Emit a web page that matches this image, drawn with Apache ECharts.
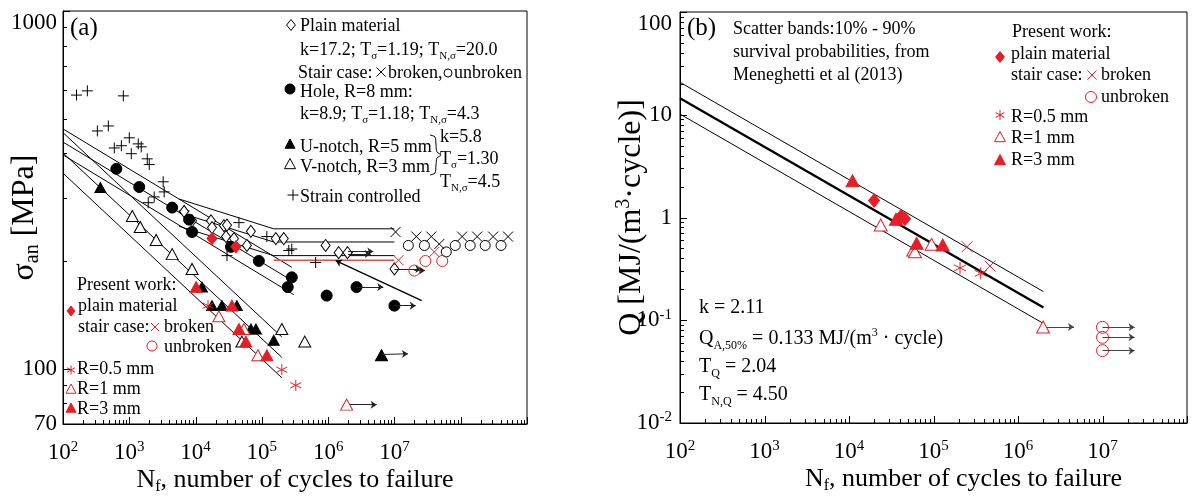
<!DOCTYPE html>
<html><head><meta charset="utf-8">
<script src="https://cdn.jsdelivr.net/npm/echarts@6/dist/echarts.min.js"></script>
<style>html,body{margin:0;padding:0;background:#fff}#c{width:1192px;height:498px}</style>
</head><body><div id="c"></div>
<script>
// ===================== DATA =====================
// Panel (a): N_f [cycles], sigma_an [MPa]
const aStrain = [[160,582],[233,598],[813,579],[330,462],[483,477],[1000,442],[1365,425],[594,414],[759,420],[1514,417],[1072,399],[1866,386],[2000,372],[3246,333],[3360,312],[2378,302],[1932,291],[6710,276],[45100,256],[118800,234],[29800,207],[254800,214],[282500,216],[648000,198],[1.96e6,211]];
const aPlain = [[6710,275],[8850,259],[17100,259],[17700,248],[26800,251],[29800,252],[28800,234],[38000,231],[59500,221],[68300,242],[162500,231],[214000,231],[916000,221],[1.44e6,211],[1.96e6,211],[1e7,190]];
const aStairBroken = [[1.04e7,241],[2.14e7,234],[3.6e7,234],[4.75e7,223],[1.05e8,234],[1.77e8,234],[3.08e8,234],[5.18e8,234]];
const aStairUnbroken = [[1.62e7,221],[2.83e7,221],[6.06e7,212],[8.27e7,221],[1.39e8,221],[2.34e8,221],[4.06e8,221]];
const aHole = [[638,362],[1413,322],[4436,282],[7980,261],[8850,241],[34200,219],[90100,200],[2.83e5,180],[2.46e5,169],[9.5e5,160],[2.68e6,169],[1e7,150]];
const aUNotch = [[366,321],[12500,169],[17700,150],[25000,150],[42000,150],[68300,129],[81300,129],[151000,120],[6.38e6,109]];
const aVNotch = [[1110,267],[1462,249],[2545,229],[4436,209],[8850,190],[50000,119],[2.0e5,129],[4.44e5,119],[6.38e6,109]];
const aPwPlain = [[17700,231],[40600,219]];
const aPwStairBroken = [[1.15e7,201],[4.0e7,212]];
const aPwStairUnbroken = [[2.0e7,188],[2.93e7,200],[5.27e7,200]];
const aPwR05 = [[15400,150],[2.0e5,99.3],[3.25e5,89.8]];
const aPwR1 = [[22500,140],[53600,129],[87100,109],[1.9e6,79.3]];
const aPwR3 = [[10200,169],[35400,150],[45100,129],[57400,119],[119000,109]];
// scatter bands of panel (a)
const aHoleUpper = [[100,468],[2.83e5,192]];
const aHoleMedian = [[100,430],[3.03e5,175]];
const aHoleLower = [[100,396],[3.03e5,161]];
const aNotchUpper = [[100,457],[2.0e5,122.6]];
const aNotchMedian = [[100,401],[2.0e5,107.5]];
const aNotchLower = [[100,352],[2.0e5,94.3]];
const aPlainUpper = [[5650,298],[1.51e5,246],[1e7,246]];
const aPlainMedian = [[5650,273],[1.51e5,226],[1e7,226]];
const aPlainLower = [[5650,250],[1.51e5,207],[1e7,207]];
const aPwLimit = [[1.51e5,201],[1e7,201]];
const aPointer = [[[2.58e7,155],[1.3e6,200.5]]];
const aRunouts = [
  [[2.0e6,212.5],[4.8e6,212.5]], [[2.0e6,209],[4.4e6,209]],
  [[1e7,190],[2.55e7,190]], [[2.0e7,188],[2.9e7,188]],
  [[2.68e6,169],[6.8e6,169]], [[1e7,150],[2.1e7,150]],
  [[6.38e6,109.5],[1.6e7,110]], [[1.9e6,79.3],[5.4e6,79.3]]
];
// Panel (b): N_f [cycles], Q [MJ/(m^3 cycle)]
const bR3 = [[11000,2.28],[36000,0.96],[63200,0.56],[128500,0.54]];
const bPlain = [[19800,1.46],[41200,1.03],[46000,0.97]];
const bR1 = [[23700,0.845],[57700,0.483],[60300,0.465],[95000,0.548],[1.98e6,0.0859]];
const bR05 = [[2.06e5,0.323],[3.62e5,0.286]];
const bStairBroken = [[2.5e5,0.52],[4.67e5,0.337]];
const bStairUnbroken = [[1e7,0.0854],[1e7,0.0682],[1e7,0.0506]];
const bMedian = [[100,14.5],[2e6,0.133]];
const bUpper = [[100,20.7],[2e6,0.19]];
const bLower = [[100,10.15],[2e6,0.093]];
const bRunouts = [[[2e6,0.0859],[4.6e6,0.0859]],[[1e7,0.0854],[2.4e7,0.0854]],[[1e7,0.0682],[2.4e7,0.0682]],[[1e7,0.0506],[2.4e7,0.0506]]];
// axis ranges
const aX = [100, 1e9], aY = [70, 1000], bX = [100, 1e8], bY = [0.01, 100];

// ===================== STYLE / HELPERS =====================
const SERIF = '"Liberation Serif","Times New Roman",serif';
const RED = '#e61e25';
const series = [];
function lineS(gi, data, color, width, z){
  series.push({type:'line', xAxisIndex:gi, yAxisIndex:gi, data, symbol:'none', showSymbol:false, silent:true,
    lineStyle:{color, width}, z:z||2, emphasis:{disabled:true}});
}
function scat(gi, data, symbol, size, fill, stroke, z){
  series.push({type:'scatter', xAxisIndex:gi, yAxisIndex:gi, data, symbol, symbolSize:size, silent:true,
    itemStyle:{color:fill, borderColor:stroke, borderWidth:1, opacity:1}, z:z||3, emphasis:{disabled:true}});
}
function arrows(gi, data, color, w){
  series.push({type:'lines', coordinateSystem:'cartesian2d', xAxisIndex:gi, yAxisIndex:gi,
    data:data.map(c=>({coords:c})), symbol:['none','arrow'], symbolSize:6, silent:true,
    lineStyle:{color, width:w||1, opacity:1, curveness:0}, z:4});
}
function logTicks(min, max){
  const out = [];
  for (let e = Math.floor(Math.log10(min)); e <= Math.ceil(Math.log10(max)); e++)
    for (let m = 1; m < 10; m++){ const v = m*Math.pow(10,e); if (v > min*1.0001 && v < max*0.9999 || (m===1 && v>=min*0.9999 && v<=max*1.0001)) out.push([v, m===1?7:4]); }
  return out;
}
function tickSeries(gi, xr, yr){
  const xt = logTicks(xr[0], xr[1]).map(t=>[t[0], yr[0], t[1]]);
  const yt = logTicks(yr[0], yr[1]).map(t=>[xr[0], t[0], t[1]]);
  series.push({type:'custom', xAxisIndex:gi, yAxisIndex:gi, data:xt, silent:true, z:5, clip:false,
    renderItem:(p, api)=>{ const c = api.coord([api.value(0), api.value(1)]); const x = Math.round(c[0])+0.5;
      return {type:'line', shape:{x1:x, y1:c[1], x2:x, y2:c[1]-api.value(2)}, style:{stroke:'#000', lineWidth:1}}; }});
  series.push({type:'custom', xAxisIndex:gi, yAxisIndex:gi, data:yt, silent:true, z:5, clip:false,
    renderItem:(p, api)=>{ const c = api.coord([api.value(0), api.value(1)]); const y = Math.round(c[1])+0.5;
      return {type:'line', shape:{x1:c[0], y1:y, x2:c[0]+api.value(2), y2:y}, style:{stroke:'#000', lineWidth:1}}; }});
}
const PLUS = 'path://M0 5L10 5M5 0L5 10';
const CROSS = 'path://M0 0L10 10M10 0L0 10';
const ASTER = 'path://M5 0L5 10M0.7 2.5L9.3 7.5M0.7 7.5L9.3 2.5';
const WHITE = '#fff', NONE = 'rgba(0,0,0,0)';

// ---------- panel (a) series ----------
[aHoleUpper, aHoleMedian, aHoleLower, aNotchUpper, aNotchMedian, aNotchLower, aPlainUpper, aPlainMedian, aPlainLower]
  .forEach(d=>lineS(0, d, '#000', 1));
lineS(0, aPwLimit, '#ec4b4b', 1.6);
scat(0, aStrain, PLUS, 11, NONE, '#000');
scat(0, aPlain, 'diamond', [9,12], WHITE, '#000');
scat(0, aHole, 'circle', 11, '#000', '#000');
scat(0, aVNotch, 'triangle', [12,11], WHITE, '#000');
scat(0, aUNotch, 'triangle', [11,10], '#000', '#000');
scat(0, aStairUnbroken, 'circle', 10, NONE, '#000');
scat(0, aStairBroken, CROSS, 10, NONE, '#000');
scat(0, aPwPlain, 'diamond', [10,12], RED, RED, 6);
scat(0, aPwStairUnbroken, 'circle', 11, NONE, RED, 6);
scat(0, aPwStairBroken, CROSS, 10, NONE, RED, 6);
scat(0, aPwR05, ASTER, 11, NONE, RED, 6);
scat(0, aPwR1, 'triangle', [12,11], WHITE, RED, 6);
scat(0, aPwR3, 'triangle', [12,11], RED, RED, 6);
arrows(0, aRunouts, '#222', 1);
arrows(0, aPointer, '#000', 1.3);
tickSeries(0, aX, aY);

// ---------- panel (b) series ----------
lineS(1, bUpper, '#000', 1);
lineS(1, bLower, '#000', 1);
lineS(1, bMedian, '#000', 2.4);
scat(1, bR1, 'triangle', [13,12], WHITE, RED, 6);
scat(1, bR3, 'triangle', [13,12], RED, RED, 6);
scat(1, bPlain, 'diamond', [11,13], RED, RED, 6);
scat(1, bR05, ASTER, 12, NONE, RED, 6);
scat(1, bStairBroken, CROSS, 11, NONE, RED, 6);
scat(1, bStairUnbroken, 'circle', 12, NONE, RED, 6);
arrows(1, bRunouts, '#444', 1);
tickSeries(1, bX, bY);

// ---------- axes ----------
const supRich = {
  b:{fontSize:23, fontFamily:SERIF, color:'#000', lineHeight:26},
  s:{fontSize:15, fontFamily:SERIF, color:'#000', lineHeight:15, verticalAlign:'top'}
};
function pow10Label(v){ const e = Math.round(Math.log10(v)); return '{b|10}{s|' + e + '}'; }
const xNameRich = {n:{fontSize:26, fontFamily:SERIF, color:'#000', lineHeight:30},
  s:{fontSize:16, fontFamily:SERIF, color:'#000', lineHeight:14, verticalAlign:'bottom'}};
const yNameRich = {n:{fontSize:32, fontFamily:SERIF, color:'#000', lineHeight:36},
  s:{fontSize:20, fontFamily:SERIF, color:'#000', lineHeight:16, verticalAlign:'bottom'},
  p:{fontSize:20, fontFamily:SERIF, color:'#000', lineHeight:16, verticalAlign:'top'}};
function xAxis(gi, r, nameShift){
  return {type:'log', logBase:10, gridIndex:gi, min:r[0], max:r[1],
    axisLine:{show:true, onZero:false, lineStyle:{color:'#000', width:1}}, axisTick:{show:false}, minorTick:{show:false}, splitLine:{show:false},
    axisLabel:{margin:16, color:'#000', fontFamily:SERIF, fontSize:23, rich:supRich,
      formatter:v=>{ const e = Math.round(Math.log10(v)); return e <= 7 ? pow10Label(v) : ''; }},
    name:'{n|N}{s|f}{n|, number of cycles to failure}', nameLocation:'middle', nameGap:41, nameMoveOverlap:false,
    nameTextStyle:{padding:[0,0,0,nameShift], rich:xNameRich}};
}

const option = {
  animation:false,
  backgroundColor:'#fff',
  grid:[
    {left:63, top:11, width:464, height:413, show:true, borderColor:'#000', borderWidth:1, containLabel:false, outerBoundsMode:'none'},
    {left:680, top:12, width:507, height:411, show:true, borderColor:'#000', borderWidth:1, containLabel:false, outerBoundsMode:'none'}
  ],
  xAxis:[xAxis(0, aX, 0), xAxis(1, bX, 60)],
  yAxis:[
    {type:'log', logBase:10, gridIndex:0, min:aY[0], max:aY[1],
      axisLine:{show:true, onZero:false, lineStyle:{color:'#000'}}, axisTick:{show:false}, splitLine:{show:false},
      axisLabel:{margin:6, color:'#000', fontFamily:SERIF, fontSize:23, verticalAlignMaxLabel:'top', formatter:v=>String(Math.round(v))},
      name:'{n|σ}{s|an}{n| [MPa]}', nameLocation:'middle', nameGap:20, nameMoveOverlap:false, nameTextStyle:{rich:yNameRich}},
    {type:'log', logBase:10, gridIndex:1, min:bY[0], max:bY[1],
      axisLine:{show:true, onZero:false, lineStyle:{color:'#000'}}, axisTick:{show:false}, splitLine:{show:false},
      axisLabel:{margin:8, color:'#000', fontFamily:SERIF, fontSize:23, rich:supRich, verticalAlignMaxLabel:'top',
        formatter:v=> v >= 1 ? String(Math.round(v)) : pow10Label(v)},
      name:'{n|Q [MJ/(m}{p|3}{n|·cycle)]}', nameLocation:'middle', nameGap:30, nameMoveOverlap:false, nameTextStyle:{rich:yNameRich}}
  ],
  series
};

// ---------- annotations (text) ----------
function richFor(fs){
  const ss = Math.round(fs*0.62);
  return {s:{fontSize:ss, fontFamily:SERIF, lineHeight:ss, verticalAlign:'bottom'},
          p:{fontSize:ss, fontFamily:SERIF, lineHeight:ss, verticalAlign:'top'}};
}
function T(x, y, text, fs, color){
  return {type:'text', x, y, silent:true, style:{text, fontSize:fs, fontFamily:SERIF, fill:color||'#000',
    align:'left', verticalAlign:'middle', lineHeight:Math.round(fs*1.25), rich:richFor(fs)}};
}
function S(kind, x, y, s, color, filled){
  const h = s/2, st = {fill: filled ? color : (kind==='circle' ? 'none' : '#fff'), stroke:color, lineWidth:1};
  if (kind === 'circle') return [{type:'circle', silent:true, shape:{cx:x, cy:y, r:h}, style:st}];
  if (kind === 'diamond') return [{type:'polygon', silent:true, shape:{points:[[x,y-h],[x+h*0.8,y],[x,y+h],[x-h*0.8,y]]}, style:st}];
  if (kind === 'triangle') return [{type:'polygon', silent:true, shape:{points:[[x,y-h],[x+h,y+h*0.85],[x-h,y+h*0.85]]}, style:st}];
  const ln = (x1,y1,x2,y2)=>({type:'line', silent:true, shape:{x1,y1,x2,y2}, style:{stroke:color, lineWidth:1}});
  if (kind === 'plus') return [ln(x-h,y,x+h,y), ln(x,y-h,x,y+h)];
  if (kind === 'cross') return [ln(x-h,y-h,x+h,y+h), ln(x+h,y-h,x-h,y+h)];
  if (kind === 'aster') return [ln(x,y-h,x,y+h), ln(x-h*0.87,y-h*0.5,x+h*0.87,y+h*0.5), ln(x-h*0.87,y+h*0.5,x+h*0.87,y-h*0.5)];
  return [];
}
const FS = 18;
let G = [];
// panel (a) labels
G.push(T(70, 28, '(a)', 25));
G = G.concat(S('diamond', 291, 25, 11, '#000', false));
G.push(T(300, 26, 'Plain material', FS));
G.push(T(300, 50, 'k=17.2; T{s|σ}=1.19; T{s|N,σ}=20.0', FS));
G.push(T(298, 73, 'Stair case:', FS));
G = G.concat(S('cross', 381, 72, 9, '#000', false));
G.push(T(388, 73, 'broken,', FS));
G = G.concat(S('circle', 448, 73, 8, '#000', false));
G.push(T(454, 73, 'unbroken', FS));
G = G.concat(S('circle', 290, 89, 10, '#000', true));
G.push(T(300, 92, 'Hole, R=8 mm:', FS));
G.push(T(300, 114, 'k=8.9; T{s|σ}=1.18; T{s|N,σ}=4.3', FS));
G = G.concat(S('triangle', 290, 144, 10, '#000', true));
G.push(T(300, 147, 'U-notch, R=5 mm', FS));
G = G.concat(S('triangle', 290, 164, 11, '#000', false));
G.push(T(300, 167, 'V-notch, R=3 mm', FS));
G.push({type:'polyline', silent:true, shape:{points:[[430,135],[435,137],[436,145],[437,152],[441,155],[437,158],[436,165],[435,173],[430,175]], smooth:0.3}, style:{stroke:'#000', lineWidth:1, fill:'none'}});
G.push(T(440, 137, 'k=5.8', FS));
G.push(T(440, 159, 'T{s|σ}=1.30', FS));
G.push(T(440, 182, 'T{s|N,σ}=4.5', FS));
G = G.concat(S('plus', 293, 195, 11, '#000', false));
G.push(T(300, 197, 'Strain controlled', FS));
// panel (a) present work legend
G.push(T(77, 285, 'Present work:', FS));
G = G.concat(S('diamond', 71, 311, 10, RED, true));
G.push(T(78, 306, 'plain material', FS));
G.push(T(78, 327, 'stair case:', FS));
G = G.concat(S('cross', 155, 327, 8, RED, false));
G.push(T(164, 327, 'broken', FS));
G = G.concat(S('circle', 152, 346, 10, RED, false));
G.push(T(164, 347, 'unbroken', FS));
G = G.concat(S('aster', 71, 370, 9, RED, false));
G.push(T(77, 369, 'R=0.5 mm', FS));
G = G.concat(S('triangle', 71, 389, 10, RED, false));
G.push(T(77, 389, 'R=1 mm', FS));
G = G.concat(S('triangle', 71, 408, 10, RED, true));
G.push(T(77, 409, 'R=3 mm', FS));
// panel (b) labels
G.push(T(687, 28, '(b)', 25));
G.push(T(733, 29, 'Scatter bands:10% - 90%', FS));
G.push(T(733, 52, 'survival probabilities, from', FS));
G.push(T(733, 75, 'Meneghetti et al (2013)', FS));
G.push(T(1012, 32, 'Present work:', FS));
G = G.concat(S('diamond', 1000, 57, 11, RED, true));
G.push(T(1011, 54, 'plain material', FS));
G.push(T(1011, 75, 'stair case:', FS));
G = G.concat(S('cross', 1092, 75, 9, RED, false));
G.push(T(1101, 75, 'broken', FS));
G = G.concat(S('circle', 1091, 97, 11, RED, false));
G.push(T(1101, 97, 'unbroken', FS));
G = G.concat(S('aster', 1000, 115, 10, RED, false));
G.push(T(1011, 117, 'R=0.5 mm', FS));
G = G.concat(S('triangle', 1000, 137, 11, RED, false));
G.push(T(1011, 138, 'R=1 mm', FS));
G = G.concat(S('triangle', 1000, 160, 11, RED, true));
G.push(T(1011, 160, 'R=3 mm', FS));
G.push(T(699, 308, 'k = 2.11', 20));
G.push(T(699, 339, 'Q{s|A,50%} = 0.133 MJ/(m{p|3} · cycle)', 20));
G.push(T(699, 367, 'T{s|Q} = 2.04', 20));
G.push(T(699, 395, 'T{s|N,Q} = 4.50', 20));
option.graphic = {elements: G};

const chart = echarts.init(document.getElementById('c'), null, {renderer:'canvas'});
chart.setOption(option);
</script>
</body></html>
